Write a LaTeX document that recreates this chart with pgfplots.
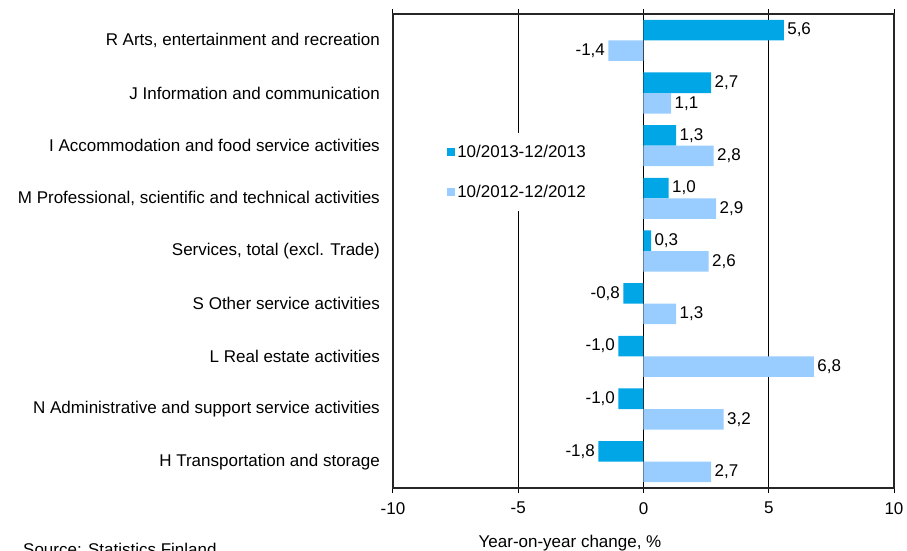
\documentclass[border=0pt]{standalone}
\usepackage{pgfplots}
\pgfplotsset{compat=1.18}
\usepackage{fontspec}
\setmainfont{Liberation Sans}
\definecolor{darkb}{HTML}{00A6E6}
\definecolor{lightb}{HTML}{99CCFF}
\begin{document}
\begin{tikzpicture}[font=\fontsize{17}{20}\selectfont]
\begin{axis}[
  at={(0pt,0pt)}, anchor=south west,
  scale only axis, width=501pt, height=474pt,
  xmin=-10, xmax=10, ymin=-0.5, ymax=8.5,
  y dir=reverse,
  xbar, bar width=0.39,
  xtick={-10,-5,0,5,10},
  ytick={0,...,8},
  yticklabels={{R Arts, entertainment and recreation},
    {J Information and communication},
    {I Accommodation and food service activities},
    {M Professional, scientific and technical activities},
    {Services, total (excl. Trade)},
    {S Other service activities},
    {L Real estate activities},
    {N Administrative and support service activities},
    {H Transportation and storage}},
  xmajorgrids, grid style={black, line width=0.9pt},
  axis line style={black!85, line width=1.1pt},
  tick align=outside,
  xtick style={black, line width=1pt},
  major tick length=5pt,
  ytick style={draw=none},
  yticklabel style={inner sep=0pt, xshift=-8pt},
  xticklabel style={inner sep=0pt, yshift=-9pt},
  /pgf/number format/assume math mode=true,
  nodes near coords,
  nodes near coords align=horizontal,
  every node near coord/.append style={black, /pgf/number format/fixed, /pgf/number format/fixed zerofill, /pgf/number format/precision=1, /pgf/number format/use comma, /pgf/number format/assume math mode=true},
  legend style={at={(0.08,0.749)}, anchor=north west, fill=white, draw=none, row sep=22pt, inner ysep=10pt, inner xsep=14pt, font=\fontsize{17}{20}\selectfont},
  legend cell align=left,
  legend image code/.code={\fill[#1] (0pt,-4pt) rectangle (8pt,4pt);},
]
\addplot[bar shift=-0.195, fill=darkb, draw=none] coordinates {
  (5.6,0) (2.7,1) (1.3,2) (1.0,3) (0.3,4) (-0.8,5) (-1.0,6) (-1.0,7) (-1.8,8)};
\addlegendentry{10/2013-12/2013}
\addplot[bar shift=0.195, fill=lightb, draw=none] coordinates {
  (-1.4,0) (1.1,1) (2.8,2) (2.9,3) (2.6,4) (1.3,5) (6.8,6) (3.2,7) (2.7,8)};
\addlegendentry{10/2012-12/2012}
\end{axis}
\node[anchor=base] at (177pt,-59pt) {Year-on-year change, \%};
\node[anchor=base west, inner sep=0pt] at (-370pt,-67pt) {Source: Statistics Finland};
\pgfresetboundingbox
\path (-393pt,-63pt) rectangle (514pt,488pt);
\end{tikzpicture}
\end{document}
